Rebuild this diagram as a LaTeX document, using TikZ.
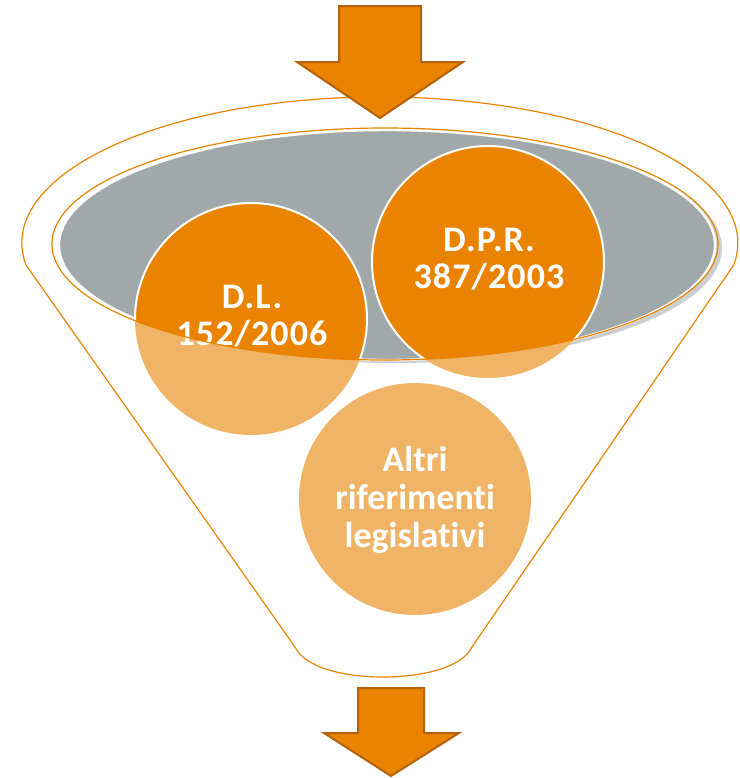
\documentclass[tikz,border=0pt]{standalone}
\usepackage{fontspec}
\setmainfont[Ligatures=NoCommon]{Carlito}
\newfontfamily\spacedfont[LetterSpace=3.0, Ligatures=NoCommon]{Carlito}
\usepackage{tikz}
\usetikzlibrary{positioning}

\definecolor{funnelorange}{HTML}{E98300}
\definecolor{lightorange}{HTML}{F0B466}
\definecolor{rimgray}{HTML}{A0A8AA}
\definecolor{shadowgray}{HTML}{CBCFD0}
\definecolor{arrowedge}{HTML}{B5620A}

\begin{document}
\begin{tikzpicture}[x=0.5pt, y=-0.5pt,
    ball/.style={circle, fill=lightorange, minimum size=116pt, inner sep=0pt},
    balltext/.style={text=white, align=center, font=\spacedfont\bfseries\fontsize{18}{18.5}\selectfont},
    bigarrow/.style={fill=funnelorange, draw=arrowedge, line width=1pt}]
    \useasboundingbox (0,0) rectangle (740,778);

    % funnel body
    \draw[funnelorange, fill=white, line width=0.6pt] (26,265) arc[start angle=171.3, end angle=368.7, x radius=358, y radius=146]
        -- (472,647) .. controls (462,668) and (421,677) .. (383,677) .. controls (345,677) and (305,668) .. (295,647) -- cycle;

    % rim
    \fill[shadowgray] (394,248) ellipse[x radius=328, y radius=115];
    \filldraw[fill=rimgray, draw=white, line width=1.2pt] (387,245) ellipse[x radius=328, y radius=115];

    % balls
    \node (dl) at (251,319) [ball] {};
    \node (dpr) at (488,262) [ball] {};
    \node (altri) at (415,499) [ball] {};
    \begin{scope}
        \clip (385,244) ellipse[x radius=333, y radius=116];
        \filldraw[fill=funnelorange, draw=white, line width=1pt] (dl.center) circle[radius=116];
        \filldraw[fill=funnelorange, draw=white, line width=1pt] (dpr.center) circle[radius=116];
    \end{scope}

    \node (dltext) at (252,316) [balltext] {D.L.\\152/2006};
    \node (dprtext) at (489,259) [balltext] {D.P.R.\\387/2003};
    \node (altritext) at (415,500) [text=white, align=center, font=\bfseries\fontsize{18}{19}\selectfont] {Altri\\riferimenti\\legislativi};

    \draw[funnelorange, line width=0.6pt] (385,244) ellipse[x radius=333, y radius=116];

    % arrows in and out
    \filldraw[bigarrow] (339,6) -- (421,6) -- (421,62) -- (463,62) -- (380,118) -- (297,62) -- (339,62) -- cycle;
    \filldraw[bigarrow] (358,688) -- (424,688) -- (424,733) -- (459,733) -- (391,776) -- (324,733) -- (358,733) -- cycle;
\end{tikzpicture}
\end{document}
